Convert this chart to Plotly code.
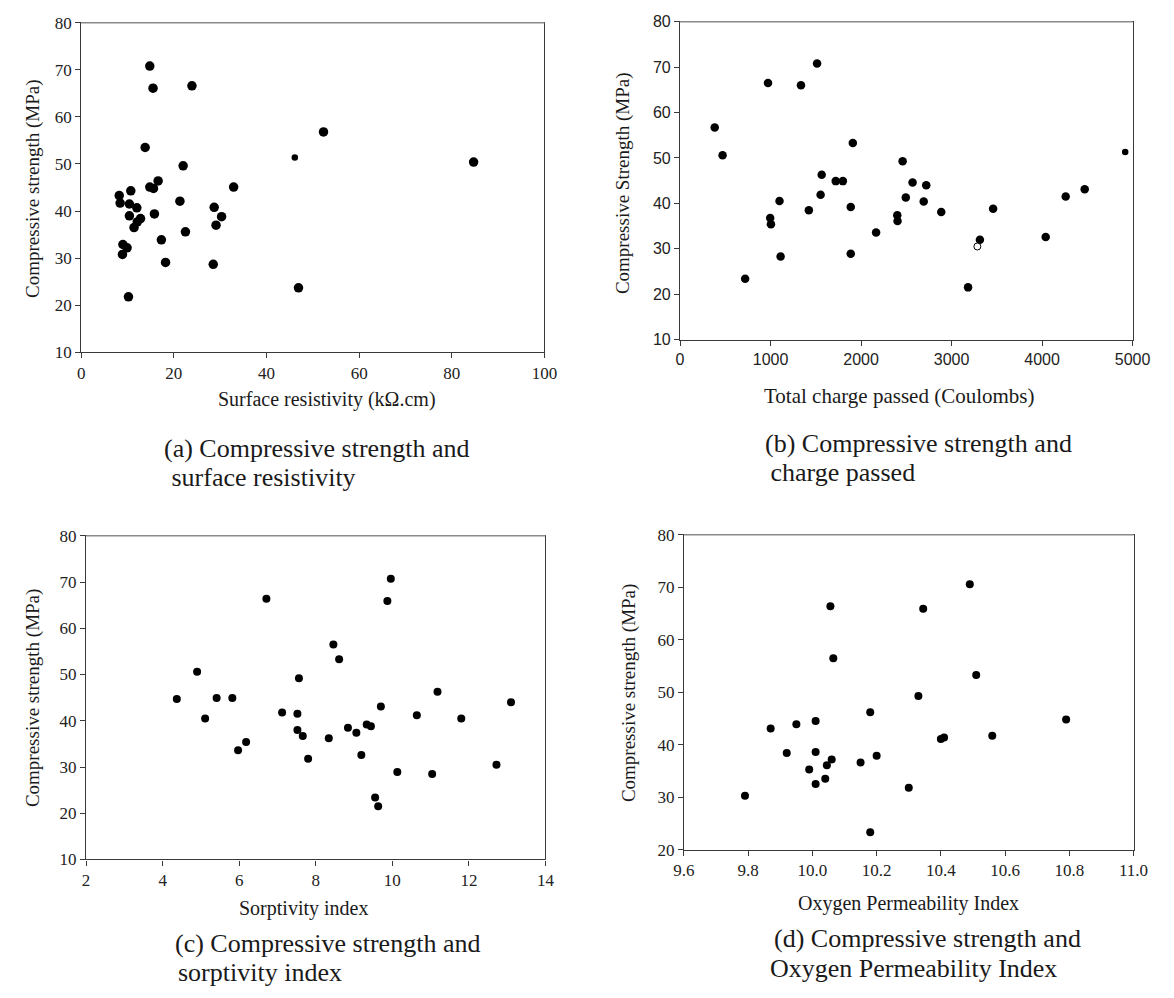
import plotly.graph_objects as go

W, H = 1174, 998

# ---------------- data ----------------
# (a) surface resistivity (kOhm.cm) vs compressive strength (MPa)
sr_x = [14.8, 15.5, 23.9, 52.3, 13.8, 22.0, 16.6, 14.8, 15.6, 32.9, 8.2, 10.7,
        8.4, 10.4, 12.0, 21.3, 28.7, 15.8, 10.4, 12.8, 12.1, 11.4, 30.3, 29.1,
        22.5, 17.3, 9.0, 9.9, 8.9, 18.2, 28.5, 10.2, 46.9, 84.7]
sr_y = [70.8, 66.1, 66.6, 56.8, 53.5, 49.6, 46.4, 45.1, 44.8, 45.1, 43.3, 44.3,
        41.7, 41.5, 40.7, 42.1, 40.8, 39.4, 39.0, 38.4, 37.7, 36.5, 38.8, 37.0,
        35.6, 33.9, 32.9, 32.2, 30.8, 29.1, 28.7, 21.8, 23.7, 50.4]
sr_small_x = [46.1]
sr_small_y = [51.4]

# (b) total charge passed (Coulombs) vs compressive strength
cp_x = [1514, 972, 1336, 383, 470, 1909, 2459, 1565, 1720, 1799, 2569, 2720,
        1553, 2494, 2692, 1099, 1423, 1886, 2886, 3459, 996, 1004, 2400, 2403,
        2166, 3313, 4040, 4261, 4471, 1111, 1886, 719, 3182]
cp_y = [70.8, 66.5, 66.0, 56.7, 50.6, 53.3, 49.3, 46.3, 44.9, 44.9, 44.6, 44.0,
        41.9, 41.3, 40.4, 40.5, 38.5, 39.2, 38.1, 38.8, 36.8, 35.4, 37.4, 36.1,
        33.6, 32.0, 32.6, 41.5, 43.1, 28.3, 28.9, 23.4, 21.5]
cp_small_x = [4918]
cp_small_y = [51.3]
cp_open_x = [3285]
cp_open_y = [30.5]

# (c) sorptivity index vs compressive strength
so_x = [4.37, 4.90, 5.11, 5.41, 5.82, 5.97, 6.18, 6.71, 7.12, 7.52, 7.56, 7.52,
        7.66, 7.80, 8.34, 8.46, 8.61, 8.84, 9.06, 9.19, 9.33, 9.44, 9.55, 9.63,
        9.70, 9.87, 9.96, 10.13, 10.64, 11.04, 11.18, 11.80, 12.72, 13.10]
so_y = [44.7, 50.6, 40.5, 44.9, 44.9, 33.6, 35.4, 66.4, 41.8, 41.5, 49.2, 38.0,
        36.7, 31.8, 36.2, 56.5, 53.3, 38.5, 37.4, 32.6, 39.2, 38.8, 23.4, 21.5,
        43.1, 65.9, 70.7, 28.9, 41.2, 28.5, 46.3, 40.5, 30.5, 44.0]

# (d) oxygen permeability index vs compressive strength
op_x = [9.79, 9.87, 9.92, 9.95, 9.99, 10.01, 10.01, 10.01, 10.04, 10.045, 10.06,
        10.056, 10.065, 10.15, 10.18, 10.18, 10.20, 10.30, 10.33, 10.345, 10.40,
        10.41, 10.49, 10.51, 10.56, 10.79]
op_y = [30.3, 43.1, 38.4, 43.9, 35.3, 38.6, 32.5, 44.5, 33.5, 36.1, 37.2,
        66.4, 56.5, 36.6, 23.3, 46.2, 37.9, 31.8, 49.3, 65.9, 41.1,
        41.4, 70.6, 53.3, 41.7, 44.8]

ticks_a = [0, 20, 40, 60, 80, 100]
ticks_b = [0, 1000, 2000, 3000, 4000, 5000]
ticks_c = [2, 4, 6, 8, 10, 12, 14]
ticks_d = [9.6, 9.8, 10.0, 10.2, 10.4, 10.6, 10.8, 11.0]
ticks_d_text = ["9.6", "9.8", "10.0", "10.2", "10.4", "10.6", "10.8", "11.0"]
yticks_abc = [10, 20, 30, 40, 50, 60, 70, 80]
yticks_d = [20, 30, 40, 50, 60, 70, 80]

SERIF = "Liberation Serif, Times New Roman, serif"
SANS = "Liberation Sans, Arial, sans-serif"
AX = "#3a3a3a"
TOP = "#8a8a8a"


def dx(a, b):
    return [a / W, b / W]


def dy(top, bottom):
    return [1 - bottom / H, 1 - top / H]


fig = go.Figure()


def add(x, y, xa, ya, size, open_=False):
    m = dict(size=size, color="black")
    if open_:
        m = dict(size=size, color="white", line=dict(color="black", width=1))
    fig.add_trace(go.Scatter(x=x, y=y, mode="markers", marker=m,
                             xaxis=xa, yaxis=ya, showlegend=False,
                             cliponaxis=False))


add(sr_x, sr_y, "x", "y", 9.5)
add(sr_small_x, sr_small_y, "x", "y", 6.5)
add(cp_x, cp_y, "x2", "y2", 8.5)
add(cp_small_x, cp_small_y, "x2", "y2", 6.5)
add(cp_open_x, cp_open_y, "x2", "y2", 7, open_=True)
add(so_x, so_y, "x3", "y3", 8)
add(op_x, op_y, "x4", "y4", 8)

common = dict(showgrid=False, zeroline=False, showline=True, linecolor=AX,
              linewidth=1.3, mirror=True, ticks="outside", ticklen=5,
              tickcolor=AX, tickwidth=1)

tf_serif = dict(family=SERIF, size=17, color="#222")
tf_sans = dict(family=SANS, size=16, color="#222")

fig.update_layout(
    width=W, height=H, margin=dict(l=0, r=0, t=0, b=0),
    paper_bgcolor="white", plot_bgcolor="white",
    xaxis=dict(domain=dx(72, 547), range=[0, 100], tickvals=ticks_a,
               tickfont=tf_serif, anchor="y", **common),
    yaxis=dict(domain=dy(14, 350), range=[10, 80], tickvals=yticks_abc,
               tickfont=tf_serif, anchor="x", **common),
    xaxis2=dict(domain=dx(686, 1150), range=[0, 5000], tickvals=ticks_b,
                tickfont=tf_sans, anchor="y2", **common),
    yaxis2=dict(domain=dy(13, 337), range=[10, 80], tickvals=yticks_abc,
                tickfont=tf_sans, anchor="x2", **common),
    xaxis3=dict(domain=dx(77, 548), range=[2, 14], tickvals=ticks_c,
                tickfont=tf_serif, anchor="y3", **common),
    yaxis3=dict(domain=dy(537, 867), range=[10, 80], tickvals=yticks_abc,
                tickfont=tf_serif, anchor="x3", **common),
    xaxis4=dict(domain=dx(690, 1151), range=[9.6, 11.0], tickvals=ticks_d,
                ticktext=ticks_d_text, tickfont=tf_serif, anchor="y4", **common),
    yaxis4=dict(domain=dy(536, 857), range=[20, 80], tickvals=yticks_d,
                tickfont=tf_serif, anchor="x4", **common),
)

# lighter top frame lines, as in the scanned figure
shapes = []
for (xa, ya) in [("x", "y"), ("x2", "y2"), ("x3", "y3"), ("x4", "y4")]:
    shapes.append(dict(type="line", xref=f"{xa} domain", yref=f"{ya} domain",
                       x0=0, x1=1, y0=1, y1=1,
                       line=dict(color=TOP, width=1.6)))
fig.update_layout(shapes=shapes)

ann = []


def text(t, x, y, size, angle=0, xanchor="center", family=SERIF):
    ann.append(dict(text=t, x=x / W, y=1 - y / H, xref="paper", yref="paper",
                    showarrow=False, textangle=angle, xanchor=xanchor,
                    yanchor="middle", font=dict(family=family, size=size,
                                                color="#1a1a1a")))


# axis titles
text("Compressive strength (MPa)", 22, 183, 19, angle=-90)
text("Compressive Strength (MPa)", 627, 178, 19, angle=-90)
text("Compressive strength (MPa)", 22, 702, 19, angle=-90)
text("Compressive strength (MPa)", 633, 697, 19, angle=-90)
text("Surface resistivity (k\u03a9.cm)", 324, 398, 20)
text("Total charge passed (Coulombs)", 911, 395, 21)
text("Sorptivity index", 300, 917, 20)
text("Oxygen Permeability Index", 920, 912, 20)

# captions
CAP = 26
text("(a) Compressive strength and", 155, 448, CAP, xanchor="left")
text(" surface resistivity", 156, 478, CAP, xanchor="left")
text("(b) Compressive strength and", 771, 443, CAP, xanchor="left")
text(" charge passed", 770, 473, CAP, xanchor="left")
text("(c) Compressive strength and", 166, 953, CAP, xanchor="left")
text("sorptivity index", 169, 982, CAP, xanchor="left")
text("(d) Compressive strength and", 780, 948, CAP, xanchor="left")
text("Oxygen Permeability Index", 776, 978, CAP, xanchor="left")

fig.update_layout(annotations=ann)

fig.write_html("out.html",
               config={"displayModeBar": False},
               post_script="document.body.style.margin='0';"
                           "document.body.style.overflow='hidden';")
